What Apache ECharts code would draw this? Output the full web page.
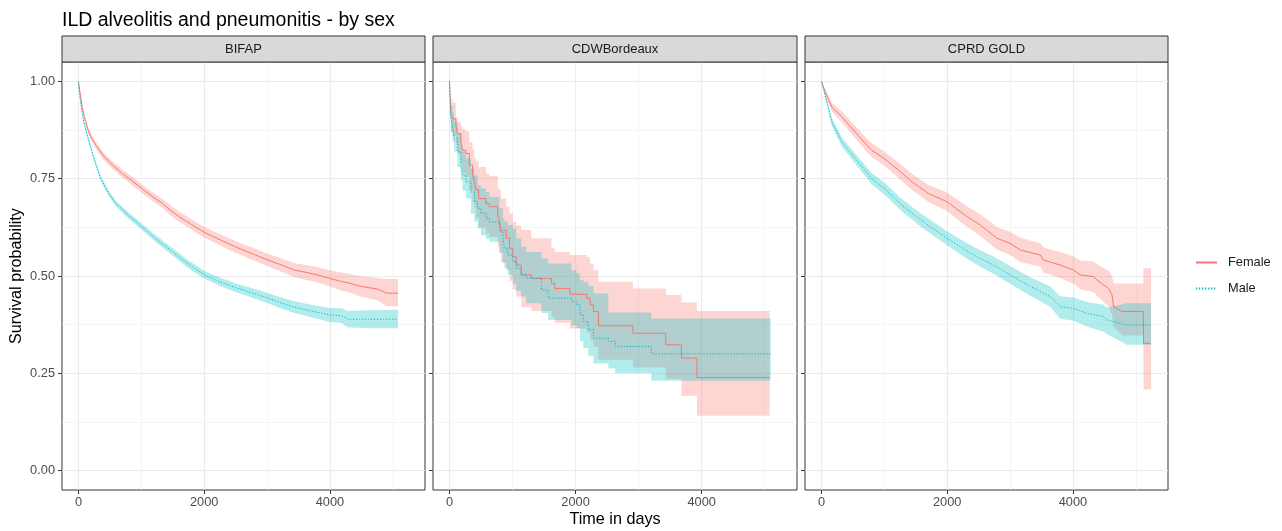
<!DOCTYPE html>
<html>
<head>
<meta charset="utf-8">
<script src="https://cdn.jsdelivr.net/npm/echarts@6/dist/echarts.min.js"></script>
<style>html,body{margin:0;padding:0;background:#fff}#c{width:1282px;height:531px}</style>
</head>
<body>
<div id="c"></div>
<script>
// ---------- chart text ----------
const chartTitle = 'ILD alveolitis and pneumonitis - by sex';
const panelNames = ['BIFAP', 'CDWBordeaux', 'CPRD GOLD'];
const groupNames = ['Female', 'Male'];
const xTitle = 'Time in days';
const yTitle = 'Survival probability';

// ---------- ticks ----------
const xTicks = [0, 2000, 4000];
const xMinorTicks = [1000, 3000, 5000];
const yTicks = [0, 0.25, 0.5, 0.75, 1];
const yTickLabels = ['0.00', '0.25', '0.50', '0.75', '1.00'];
const yMinorTicks = [0.125, 0.375, 0.625, 0.875];

// ---------- BIFAP ----------
const bifapFemaleT  = [0, 20, 40, 64, 100, 144, 200, 277, 400, 543, 700, 850, 1005, 1170, 1340, 1470, 1606, 1800, 2005, 2200, 2400, 2600, 2800, 3011, 3200, 3436, 3600, 3800, 3995, 4181, 4300, 4474, 4766, 4899, 5085];
const bifapFemaleS  = [1.0, 0.975, 0.955, 0.930, 0.905, 0.879, 0.857, 0.836, 0.808, 0.785, 0.763, 0.745, 0.725, 0.705, 0.686, 0.668, 0.652, 0.632, 0.612, 0.597, 0.582, 0.568, 0.555, 0.541, 0.530, 0.515, 0.510, 0.503, 0.494, 0.486, 0.482, 0.474, 0.466, 0.456, 0.456];
const bifapFemaleHi = [1.0, 0.980, 0.961, 0.937, 0.912, 0.887, 0.865, 0.845, 0.817, 0.795, 0.773, 0.756, 0.736, 0.716, 0.698, 0.681, 0.665, 0.645, 0.626, 0.611, 0.597, 0.583, 0.571, 0.557, 0.547, 0.533, 0.529, 0.523, 0.515, 0.509, 0.506, 0.500, 0.495, 0.492, 0.492];
const bifapFemaleLo = [1.0, 0.970, 0.949, 0.923, 0.898, 0.871, 0.849, 0.827, 0.799, 0.775, 0.753, 0.734, 0.714, 0.694, 0.674, 0.655, 0.639, 0.619, 0.598, 0.583, 0.567, 0.553, 0.539, 0.525, 0.513, 0.497, 0.491, 0.483, 0.473, 0.463, 0.458, 0.448, 0.437, 0.422, 0.422];

const bifapMaleT  = [0, 20, 40, 64, 100, 170, 250, 356, 470, 596, 800, 1005, 1250, 1500, 1750, 2005, 2250, 2500, 2700, 3011, 3200, 3436, 3700, 3995, 4181, 4288, 4600, 5085];
const bifapMaleS  = [1.0, 0.965, 0.940, 0.913, 0.885, 0.844, 0.800, 0.750, 0.715, 0.686, 0.655, 0.627, 0.593, 0.562, 0.530, 0.503, 0.485, 0.470, 0.460, 0.443, 0.432, 0.420, 0.410, 0.400, 0.398, 0.389, 0.389, 0.389];
const bifapMaleHi = [1.0, 0.970, 0.946, 0.919, 0.891, 0.850, 0.806, 0.757, 0.722, 0.693, 0.663, 0.635, 0.602, 0.571, 0.540, 0.513, 0.496, 0.481, 0.472, 0.456, 0.446, 0.435, 0.426, 0.418, 0.417, 0.410, 0.412, 0.413];
const bifapMaleLo = [1.0, 0.960, 0.934, 0.907, 0.879, 0.838, 0.794, 0.743, 0.708, 0.679, 0.647, 0.619, 0.584, 0.553, 0.520, 0.493, 0.474, 0.459, 0.448, 0.430, 0.418, 0.405, 0.394, 0.382, 0.379, 0.368, 0.366, 0.366];

// ---------- CDWBordeaux ----------
const cdwFemaleT  = [0, 21, 48, 101, 128, 181, 207, 261, 314, 367, 394, 420, 463, 580, 633, 766, 793, 819, 899, 952, 1005, 1058, 1138, 1298, 1617, 1670, 1910, 2176, 2229, 2282, 2362, 2910, 3431, 3681, 3925, 5080];
const cdwFemaleS  = [1.0, 0.913, 0.904, 0.887, 0.866, 0.844, 0.823, 0.815, 0.785, 0.759, 0.742, 0.721, 0.699, 0.686, 0.678, 0.656, 0.639, 0.618, 0.597, 0.571, 0.549, 0.528, 0.503, 0.494, 0.481, 0.468, 0.453, 0.443, 0.426, 0.409, 0.372, 0.353, 0.323, 0.289, 0.239, 0.239];
const cdwFemaleHi = [1.0, 0.956, 0.945, 0.908, 0.895, 0.885, 0.878, 0.872, 0.844, 0.825, 0.802, 0.795, 0.780, 0.763, 0.757, 0.725, 0.720, 0.699, 0.678, 0.661, 0.639, 0.630, 0.618, 0.597, 0.571, 0.562, 0.554, 0.549, 0.532, 0.515, 0.485, 0.468, 0.451, 0.432, 0.410, 0.410];
const cdwFemaleLo = [1.0, 0.870, 0.860, 0.840, 0.815, 0.790, 0.765, 0.755, 0.720, 0.690, 0.675, 0.650, 0.625, 0.610, 0.600, 0.575, 0.560, 0.535, 0.515, 0.488, 0.465, 0.447, 0.420, 0.410, 0.395, 0.380, 0.365, 0.355, 0.335, 0.318, 0.285, 0.265, 0.235, 0.192, 0.141, 0.141];

const cdwMaleT  = [0, 21, 48, 74, 128, 181, 207, 261, 340, 394, 447, 500, 580, 633, 793, 846, 872, 926, 1005, 1058, 1138, 1218, 1458, 1564, 1936, 2016, 2069, 2122, 2202, 2282, 2520, 2628, 3202, 5095];
const cdwMaleS  = [1.0, 0.904, 0.887, 0.853, 0.819, 0.785, 0.759, 0.742, 0.716, 0.691, 0.674, 0.661, 0.648, 0.639, 0.614, 0.597, 0.571, 0.554, 0.537, 0.520, 0.503, 0.494, 0.464, 0.443, 0.434, 0.426, 0.400, 0.383, 0.362, 0.340, 0.332, 0.319, 0.300, 0.300];
const cdwMaleHi = [1.0, 0.938, 0.920, 0.895, 0.865, 0.836, 0.820, 0.802, 0.776, 0.759, 0.733, 0.725, 0.716, 0.703, 0.674, 0.648, 0.640, 0.631, 0.622, 0.597, 0.575, 0.562, 0.545, 0.532, 0.515, 0.507, 0.490, 0.485, 0.475, 0.455, 0.406, 0.406, 0.391, 0.391];
const cdwMaleLo = [1.0, 0.870, 0.844, 0.820, 0.780, 0.745, 0.720, 0.699, 0.660, 0.640, 0.622, 0.605, 0.595, 0.588, 0.560, 0.535, 0.520, 0.503, 0.480, 0.462, 0.447, 0.430, 0.405, 0.387, 0.374, 0.366, 0.332, 0.315, 0.295, 0.275, 0.263, 0.250, 0.231, 0.231];

// ---------- CPRD GOLD ----------
const cprdFemaleT  = [0, 59, 165, 325, 536, 722, 802, 998, 1226, 1439, 1703, 1995, 2287, 2526, 2791, 3000, 3163, 3481, 3534, 3799, 4011, 4117, 4329, 4383, 4489, 4568, 4622, 4648, 4781, 5120, 5125, 5243];
const cprdFemaleS  = [1.0, 0.973, 0.934, 0.909, 0.870, 0.836, 0.823, 0.802, 0.772, 0.742, 0.712, 0.691, 0.656, 0.631, 0.597, 0.584, 0.567, 0.554, 0.541, 0.528, 0.515, 0.503, 0.498, 0.490, 0.477, 0.468, 0.451, 0.421, 0.409, 0.409, 0.327, 0.327];
const cprdFemaleHi = [1.0, 0.980, 0.946, 0.923, 0.886, 0.853, 0.841, 0.820, 0.792, 0.763, 0.734, 0.715, 0.682, 0.659, 0.626, 0.614, 0.598, 0.584, 0.573, 0.562, 0.550, 0.540, 0.537, 0.531, 0.520, 0.515, 0.500, 0.481, 0.481, 0.481, 0.520, 0.520];
const cprdFemaleLo = [1.0, 0.966, 0.922, 0.895, 0.854, 0.819, 0.805, 0.784, 0.752, 0.721, 0.690, 0.667, 0.630, 0.603, 0.568, 0.554, 0.536, 0.524, 0.509, 0.494, 0.480, 0.466, 0.459, 0.449, 0.434, 0.421, 0.402, 0.370, 0.347, 0.347, 0.208, 0.208];

const cprdMaleT  = [0, 59, 165, 325, 536, 802, 998, 1279, 1544, 1995, 2340, 2526, 2738, 3000, 3322, 3640, 3799, 4011, 4223, 4489, 4542, 4860, 5243];
const cprdMaleS  = [1.0, 0.964, 0.896, 0.844, 0.802, 0.750, 0.725, 0.682, 0.648, 0.597, 0.562, 0.545, 0.528, 0.503, 0.473, 0.447, 0.421, 0.417, 0.404, 0.396, 0.387, 0.374, 0.374];
const cprdMaleHi = [1.0, 0.970, 0.906, 0.856, 0.815, 0.765, 0.740, 0.698, 0.665, 0.615, 0.582, 0.566, 0.550, 0.526, 0.497, 0.473, 0.448, 0.445, 0.433, 0.426, 0.419, 0.430, 0.430];
const cprdMaleLo = [1.0, 0.958, 0.886, 0.832, 0.789, 0.735, 0.710, 0.666, 0.631, 0.579, 0.542, 0.524, 0.506, 0.480, 0.449, 0.421, 0.390, 0.385, 0.370, 0.357, 0.350, 0.323, 0.323];

// ---------- assemble ----------
const panelsData = [
  { step: false, F: [bifapFemaleT, bifapFemaleS, bifapFemaleLo, bifapFemaleHi], M: [bifapMaleT, bifapMaleS, bifapMaleLo, bifapMaleHi] },
  { step: true,  F: [cdwFemaleT, cdwFemaleS, cdwFemaleLo, cdwFemaleHi], M: [cdwMaleT, cdwMaleS, cdwMaleLo, cdwMaleHi] },
  { step: false, F: [cprdFemaleT, cprdFemaleS, cprdFemaleLo, cprdFemaleHi], M: [cprdMaleT, cprdMaleS, cprdMaleLo, cprdMaleHi] }
];

const FONT = '"Liberation Sans", Arial, Helvetica, sans-serif';
const COL = { F: '#F8766D', M: '#00BFC4' };
const BAND = { F: 'rgba(248,118,109,0.3)', M: 'rgba(0,191,196,0.3)' };
const gridBoxes = [
  { left: 62, top: 62, width: 363, height: 428 },
  { left: 433, top: 62, width: 364, height: 428 },
  { left: 805, top: 62, width: 363, height: 428 }
];
const X_MIN = -262, X_MAX = 5513, Y_MIN = -0.05, Y_MAX = 1.05;

function bandRenderer(stepMode, color) {
  return function (params, api) {
    if (params.dataIndexInside !== 0) return null;
    const n = params.dataInsideLength;
    const up = [], dn = [];
    for (let i = 0; i < n; i++) {
      const t = api.value(0, i), lo = api.value(1, i), hi = api.value(2, i);
      up.push(api.coord([t, hi]));
      dn.push(api.coord([t, lo]));
      if (stepMode && i < n - 1) {
        const tn = api.value(0, i + 1);
        up.push(api.coord([tn, hi]));
        dn.push(api.coord([tn, lo]));
      }
    }
    const pts = up.concat(dn.reverse());
    return { type: 'polygon', shape: { points: pts }, style: { fill: color, stroke: null }, silent: true };
  };
}

const grids = [], xAxes = [], yAxes = [], series = [], graphics = [];
gridBoxes.forEach((g, p) => {
  grids.push(Object.assign({ show: true, backgroundColor: '#fff', borderColor: '#333333', borderWidth: 1, containLabel: false }, g));
  xAxes.push({
    type: 'value', gridIndex: p, min: X_MIN, max: X_MAX, position: 'bottom',
    axisLine: { show: false, onZero: false },
    axisTick: { show: true, customValues: xTicks, length: 4, lineStyle: { color: '#333333', width: 1 } },
    axisLabel: { customValues: xTicks, color: '#4d4d4d', fontSize: 12.8, fontFamily: FONT, margin: 6, formatter: v => String(v) },
    splitLine: { show: true, lineStyle: { color: '#ebebeb', width: 1.1 } }
  });
  xAxes.push({
    type: 'value', gridIndex: p, min: X_MIN, max: X_MAX, position: 'bottom',
    axisLine: { show: false, onZero: false },
    axisTick: { show: false, customValues: xMinorTicks },
    axisLabel: { show: false, customValues: xMinorTicks },
    splitLine: { show: true, lineStyle: { color: '#f0f0f0', width: 0.7 } }
  });
  yAxes.push({
    type: 'value', gridIndex: p, min: Y_MIN, max: Y_MAX, position: 'left',
    axisLine: { show: false, onZero: false },
    axisTick: { show: true, customValues: yTicks, length: 4, lineStyle: { color: '#333333', width: 1 } },
    axisLabel: { show: p === 0, customValues: yTicks, color: '#4d4d4d', fontSize: 12.8, fontFamily: FONT, margin: 7,
      formatter: v => yTickLabels[yTicks.findIndex(t => Math.abs(t - v) < 1e-9)] },
    splitLine: { show: true, lineStyle: { color: '#ebebeb', width: 1.1 } }
  });
  yAxes.push({
    type: 'value', gridIndex: p, min: Y_MIN, max: Y_MAX, position: 'left',
    axisLine: { show: false, onZero: false },
    axisTick: { show: false, customValues: yMinorTicks },
    axisLabel: { show: false, customValues: yMinorTicks },
    splitLine: { show: true, lineStyle: { color: '#f0f0f0', width: 0.7 } }
  });

  const d = panelsData[p];
  const xi = 2 * p, yi = 2 * p;
  // survival lines first (ribbons are drawn on top, as in the original)
  ['F', 'M'].forEach(k => {
    const [t, s] = d[k];
    series.push({
      type: 'line', name: k === 'F' ? groupNames[0] : groupNames[1],
      xAxisIndex: xi, yAxisIndex: yi, step: d.step ? 'end' : false, symbol: 'none', silent: true,
      data: t.map((x, i) => [x, s[i]]),
      lineStyle: { color: COL[k], width: 1, type: k === 'F' ? 'solid' : [1.3, 1.7] },
      itemStyle: { color: COL[k] }
    });
  });
  // confidence ribbons
  ['F', 'M'].forEach(k => {
    const [t, , lo, hi] = d[k];
    series.push({
      type: 'custom', name: 'band' + k + p, xAxisIndex: xi, yAxisIndex: yi, silent: true,
      encode: { x: 0, y: [1, 2] },
      data: t.map((x, i) => [x, lo[i], hi[i]]),
      renderItem: bandRenderer(d.step, BAND[k])
    });
  });

  // facet strip
  graphics.push({
    type: 'rect', shape: { x: g.left, y: 36, width: g.width, height: 26 },
    style: { fill: '#d9d9d9', stroke: '#333333', lineWidth: 1 }, z: 10
  });
  graphics.push({
    type: 'text', x: g.left + g.width / 2, y: 49,
    style: { text: panelNames[p], fill: '#1a1a1a', font: '13px ' + FONT, align: 'center', verticalAlign: 'middle' }, z: 11
  });
});

graphics.push({
  type: 'text', x: 17, y: 276, rotation: Math.PI / 2,
  style: { text: yTitle, fill: '#000', font: '16.2px ' + FONT, align: 'center', verticalAlign: 'middle' }
});
graphics.push({
  type: 'text', x: 615, y: 520,
  style: { text: xTitle, fill: '#000', font: '16.2px ' + FONT, align: 'center', verticalAlign: 'middle' }
});

const chart = echarts.init(document.getElementById('c'), null, { renderer: 'canvas' });
chart.setOption({
  animation: false,
  backgroundColor: '#fff',
  title: { text: chartTitle, left: 57, top: 6, textStyle: { fontSize: 19.5, fontWeight: 'normal', color: '#000', fontFamily: FONT } },
  legend: {
    data: groupNames, orient: 'vertical', left: 1195, top: 256, padding: 0, itemWidth: 21, itemHeight: 14, itemGap: 13,
    itemStyle: { opacity: 0 },
    textStyle: { fontSize: 12.8, color: '#1a1a1a', fontFamily: FONT, padding: [0, 0, 0, 6] }
  },
  grid: grids, xAxis: xAxes, yAxis: yAxes, series: series, graphic: graphics
});
</script>
</body>
</html>
